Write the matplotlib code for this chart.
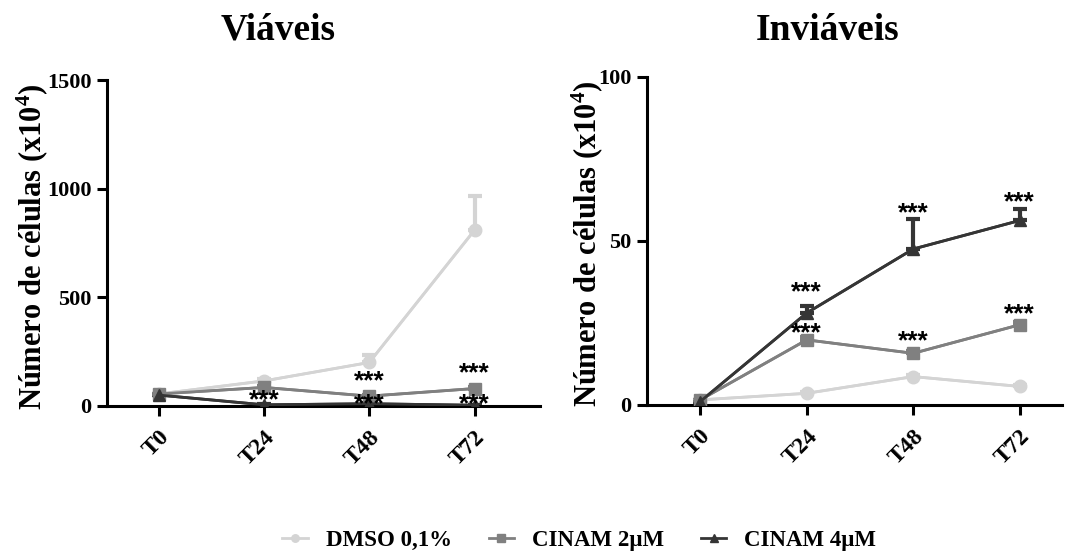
import numpy as np
import matplotlib.pyplot as plt

plt.rcParams['font.family'] = ['Liberation Serif', 'DejaVu Serif']
plt.rcParams['font.weight'] = 'bold'
plt.rcParams['mathtext.fontset'] = 'custom'
plt.rcParams['mathtext.rm'] = 'Liberation Serif:bold'
plt.rcParams['mathtext.bf'] = 'Liberation Serif:bold'
plt.rcParams['mathtext.default'] = 'rm'

times = ["T0", "T24", "T48", "T72"]
series = ["DMSO 0,1%", "CINAM 2\u03bcM", "CINAM 4\u03bcM"]

# Viáveis
viaveis_dmso = [55, 115, 200, 810]
viaveis_dmso_err = [0, 10, 35, 155]
viaveis_c2 = [55, 85, 45, 80]
viaveis_c2_err = [0, 5, 5, 5]
viaveis_c4 = [50, 5, 10, 3]
viaveis_c4_err = [0, 2, 3, 2]

# Inviáveis
inviaveis_dmso = [1.5, 3.5, 8.6, 5.6]
inviaveis_dmso_err = [0, 0.3, 0.5, 0.4]
inviaveis_c2 = [1.5, 19.8, 15.7, 24.4]
inviaveis_c2_err = [0, 1.0, 0.8, 1.0]
inviaveis_c4 = [1.0, 28.0, 47.5, 56.2]
inviaveis_c4_err = [0, 2.0, 9.2, 3.5]

# significance marks: (x index, y value at the centre of the stars)
viaveis_stars = [(1, 60), (2, 143), (2, 37), (3, 180), (3, 41)]
inviaveis_stars = [(1, 36.5), (1, 23.9), (2, 60.4), (2, 21.6), (3, 64), (3, 29.7)]

colors = ["#d4d4d4", "#808080", "#353535"]
markers = ["o", "s", "^"]

fig = plt.figure(figsize=(10.73, 5.53), dpi=100)
ax1 = fig.add_axes([0.0997, 0.266, 0.4035, 0.589])
ax2 = fig.add_axes([0.603, 0.268, 0.387, 0.593])

x = np.arange(len(times))


def draw(ax, data, errs, stars, ymax, yticks):
    handles = []
    for vals, err, c, m, lab in zip(data, errs, colors, markers, series):
        ax.errorbar(x, vals, yerr=[np.zeros(len(err)), err], color=c, lw=2,
                    elinewidth=3, capsize=5, capthick=3, zorder=2)
        h, = ax.plot(x, vals, color=c, marker=m, ms=9, lw=2, label=lab, zorder=3)
        handles.append(h)
    for xi, yv in stars:
        ax.annotate("***", xy=(xi, yv), xytext=(0, -5), textcoords="offset points",
                    ha="center", va="center", fontsize=19, fontweight="bold",
                    family="Liberation Sans", zorder=4)
    ax.set_ylim(0, ymax)
    ax.set_yticks(yticks)
    ax.set_xticks(x)
    ax.set_xticklabels(times, rotation=45, ha="right", rotation_mode="anchor")
    ax.spines['top'].set_visible(False)
    ax.spines['right'].set_visible(False)
    ax.spines['left'].set_linewidth(2.2)
    ax.spines['bottom'].set_linewidth(2.2)
    ax.tick_params(width=2.2, length=7, labelsize=16, pad=4)
    ax.tick_params(axis="x", labelsize=17, pad=8)
    for lbl in ax.get_xticklabels() + ax.get_yticklabels():
        lbl.set_fontweight("bold")
    ax.set_ylabel("Número de células (x10$^{4}$)", fontsize=22, fontweight="bold")
    return handles


draw(ax1, [viaveis_dmso, viaveis_c2, viaveis_c4],
     [viaveis_dmso_err, viaveis_c2_err, viaveis_c4_err],
     viaveis_stars, 1500, [0, 500, 1000, 1500])
ax1.set_xlim(-0.49, 3.62)
ax1.yaxis.set_label_coords(-0.132, 0.49)
handles = draw(ax2, [inviaveis_dmso, inviaveis_c2, inviaveis_c4],
               [inviaveis_dmso_err, inviaveis_c2_err, inviaveis_c4_err],
               inviaveis_stars, 100, [0, 50, 100])
ax2.set_xlim(-0.5, 3.4)
ax2.yaxis.set_label_coords(-0.101, 0.49)

fig.text(278 / 1073, 1 - 30 / 553, "Viáveis", ha="center", va="center",
         fontsize=27, fontweight="bold")
fig.text(828 / 1073, 1 - 30 / 553, "Inviáveis", ha="center", va="center",
         fontsize=27, fontweight="bold")

fig.legend(handles=handles, loc="center", bbox_to_anchor=(0.54, 0.022), ncol=3,
           frameon=False, fontsize=16.5, handlelength=1.1, handletextpad=0.8,
           columnspacing=1.6, markerscale=0.6)

fig.savefig("out.png", dpi=100)
